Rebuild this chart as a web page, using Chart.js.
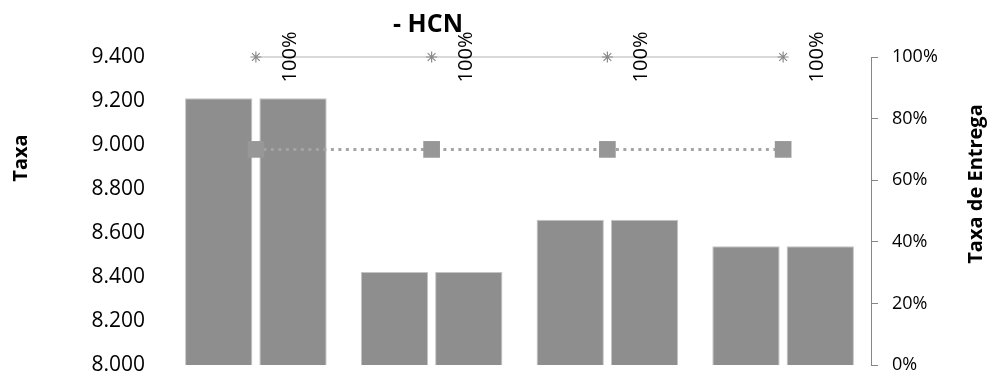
<!DOCTYPE html>
<html><head><meta charset="utf-8">
<script src="https://cdn.jsdelivr.net/npm/chart.js@4/dist/chart.umd.min.js"></script>
<style>html,body{margin:0;padding:0;background:#fff;} canvas{display:block;}</style>
</head><body>
<canvas id="c" width="990" height="373"></canvas>
<script>
// ---- data ----
const categories = ['1', '2', '3', '4'];
const taxaSerieA = [9213, 8423, 8660, 8540];
const taxaSerieB = [9213, 8423, 8660, 8540];
const entregaTotal = [100, 100, 100, 100];
const entregaPrazo = [70, 70, 70, 70];
const leftTicks = [8000, 8200, 8400, 8600, 8800, 9000, 9200, 9400];
const rightTicks = [0, 20, 40, 60, 80, 100];
const chartTitle = '- HCN';
const leftAxisTitle = 'Taxa';
const rightAxisTitle = 'Taxa de Entrega';

function fmtThousands(v) {
  const s = String(Math.round(v));
  return s.replace(/\B(?=(\d{3})+(?!\d))/g, '.');
}

const FONT = 'Open Sans';

const overlay = {
  id: 'overlay',
  afterDraw(chart) {
    const ctx = chart.ctx;
    ctx.save();
    ctx.fillStyle = '#000';
    ctx.font = 'bold 25px "' + FONT + '"';
    ctx.textAlign = 'center';
    ctx.textBaseline = 'alphabetic';
    ctx.fillText(chartTitle, 428, 32);
    ctx.font = 'bold 20px "' + FONT + '"';
    ctx.save();
    ctx.translate(27, 158);
    ctx.rotate(-Math.PI / 2);
    ctx.fillText(leftAxisTitle, 0, 0);
    ctx.restore();
    ctx.save();
    ctx.translate(982, 184);
    ctx.rotate(-Math.PI / 2);
    ctx.fillText(rightAxisTitle, 0, 0);
    ctx.restore();
    const meta = chart.getDatasetMeta(2);
    ctx.font = '20px "' + FONT + '"';
    meta.data.forEach((pt, i) => {
      ctx.save();
      ctx.translate(pt.x + 40, pt.y);
      ctx.rotate(-Math.PI / 2);
      ctx.fillText(entregaTotal[i] + '%', 0, 0);
      ctx.restore();
    });
    ctx.restore();
  }
};

new Chart(document.getElementById('c'), {
  data: {
    labels: categories,
    datasets: [
      { type: 'bar', label: 'A', data: taxaSerieA, yAxisID: 'y', order: 2,
        backgroundColor: '#8e8e8e', borderColor: '#c4c4c4', borderWidth: 1,
        categoryPercentage: 0.8455, barPercentage: 0.906 },
      { type: 'bar', label: 'B', data: taxaSerieB, yAxisID: 'y', order: 2,
        backgroundColor: '#8e8e8e', borderColor: '#c4c4c4', borderWidth: 1,
        categoryPercentage: 0.8455, barPercentage: 0.906 },
      { type: 'line', label: 'Total', data: entregaTotal, yAxisID: 'y1', order: 0,
        borderColor: '#b4b4b4', borderWidth: 1.2, pointStyle: 'star', pointRadius: 5.5,
        pointBorderColor: '#8a8a8a', pointBorderWidth: 1.2, pointBackgroundColor: '#8a8a8a',
        fill: false, clip: false, tension: 0 },
      { type: 'line', label: 'Prazo', data: entregaPrazo, yAxisID: 'y1', order: 1,
        borderColor: '#a4a4a4', borderWidth: 3, borderDash: [3, 4.5],
        pointStyle: 'rect', pointRadius: 11.8, pointBorderWidth: 0,
        pointBackgroundColor: '#979797', pointBorderColor: '#979797',
        fill: false, clip: false, tension: 0 }
    ]
  },
  options: {
    responsive: false,
    animation: false,
    devicePixelRatio: 1,
    layout: { autoPadding: false, padding: { top: 57, bottom: 8, left: 0, right: 0 } },
    plugins: { legend: { display: false }, tooltip: { enabled: false }, title: { display: false } },
    scales: {
      x: { type: 'category', display: false, offset: true, grid: { display: false } },
      y: {
        type: 'linear', position: 'left', min: 8000, max: 9400,
        afterBuildTicks: s => { s.ticks = leftTicks.map(v => ({ value: v })); },
        afterFit: s => { s.width = 168; s.paddingTop = 0; s.paddingBottom = 0; },
        grid: { display: false, drawTicks: false },
        border: { display: false },
        ticks: { padding: 23, color: '#000', font: { family: FONT, size: 21, lineHeight: '8px' },
          callback: v => fmtThousands(v) }
      },
      y1: {
        type: 'linear', position: 'right', min: 0, max: 100,
        afterBuildTicks: s => { s.ticks = rightTicks.map(v => ({ value: v })); },
        afterFit: s => { s.width = 119; s.paddingTop = 0; s.paddingBottom = 0; },
        grid: { display: true, drawOnChartArea: false, drawTicks: true, tickLength: 7, color: '#868686' },
        border: { display: true, color: '#868686', width: 1 },
        ticks: { padding: 14, color: '#000', font: { family: FONT, size: 18, lineHeight: '8px' },
          callback: v => v + '%' }
      }
    }
  },
  plugins: [overlay]
});
</script>
</body></html>
